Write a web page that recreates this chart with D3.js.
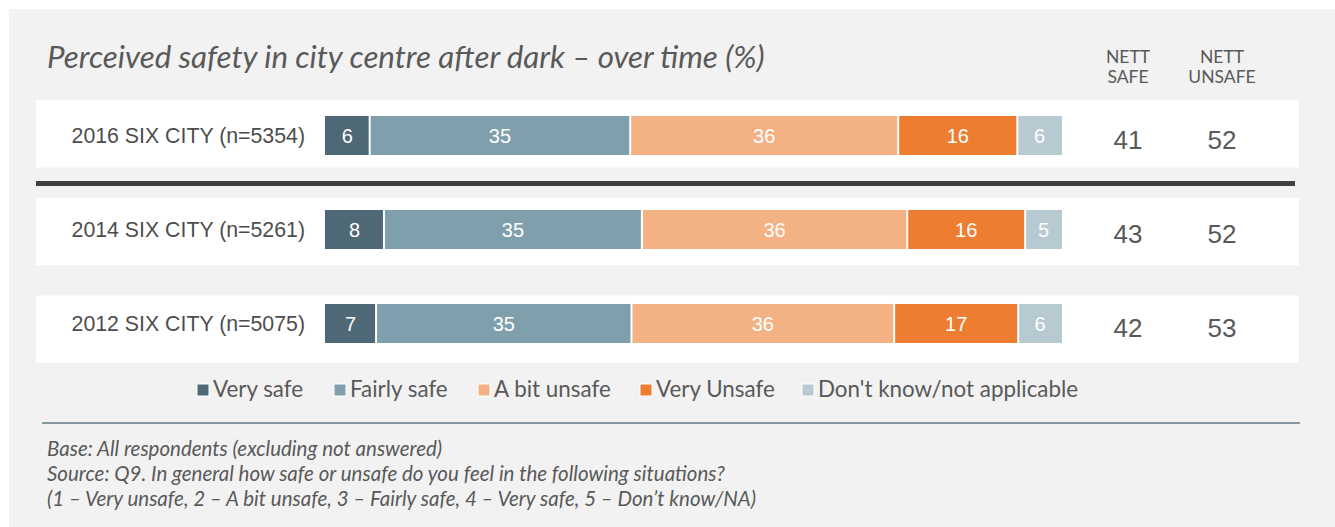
<!DOCTYPE html>
<html>
<head>
<meta charset="utf-8">
<script src="https://cdn.jsdelivr.net/npm/d3@7"></script>
<style>
  body { margin: 0; background: #fff; }
  svg { display: block; }
</style>
</head>
<body>
<script>
// data
const rows = ["2016 SIX CITY (n=5354)", "2014 SIX CITY (n=5261)", "2012 SIX CITY (n=5075)"];
const categories = ["Very safe", "Fairly safe", "A bit unsafe", "Very Unsafe", "Don't know/not applicable"];
const values2016 = [6, 35, 36, 16, 6];
const values2014 = [8, 35, 36, 16, 5];
const values2012 = [7, 35, 36, 17, 6];
const nettSafe = [41, 43, 42];
const nettUnsafe = [52, 52, 53];
const footnotes = [
  "Base: All respondents (excluding not answered)",
  "Source: Q9. In general how safe or unsafe do you feel in the following situations?",
  "(1 \u2013 Very unsafe, 2 \u2013 A bit unsafe, 3 \u2013 Fairly safe, 4 \u2013 Very safe, 5 \u2013 Don\u2019t know/NA)"
];

const colors = ["#4f6876", "#809fac", "#f4b183", "#ed7d31", "#b7c9d1"];
const textGrey = "#595959";

const W = 1335, H = 527;
const svg = d3.select("body").append("svg").attr("width", W).attr("height", H);

// grey panel
svg.append("rect").attr("x", 9).attr("y", 9).attr("width", W - 9).attr("height", H - 9).attr("fill", "#f2f2f2");

// title
svg.append("text")
  .attr("x", 47).attr("y", 68)
  .attr("font-family", "Lato, 'Open Sans', sans-serif")
  .attr("font-style", "italic")
  .attr("font-size", 31.3)
  .attr("fill", textGrey)
  .text("Perceived safety in city centre after dark \u2013 over time (%)");

// column headers
const nettX = [1128, 1222];
[["NETT", "SAFE"], ["NETT", "UNSAFE"]].forEach((lines, i) => {
  lines.forEach((t, j) => {
    svg.append("text")
      .attr("x", nettX[i]).attr("y", 63 + j * 20)
      .attr("text-anchor", "middle")
      .attr("font-family", "Lato, sans-serif")
      .attr("font-size", 17.5)
      .attr("fill", textGrey)
      .text(t);
  });
});

const series = [values2016, values2014, values2012];

// scales
const yRow = d3.scaleBand().domain(rows).range([100, 363]).paddingInner(0.31);
const yBar = d3.scaleBand().domain(rows).range([116, 343]).paddingInner(0.585);

// white row backgrounds
svg.selectAll(".rowbg").data(rows).enter().append("rect")
  .attr("class", "rowbg")
  .attr("x", 36).attr("width", 1299 - 36)
  .attr("y", d => yRow(d)).attr("height", yRow.bandwidth())
  .attr("fill", "#fff");

// dark separator below the first row
svg.append("rect")
  .attr("x", 36).attr("width", 1295 - 36)
  .attr("y", 181).attr("height", 5)
  .attr("fill", "#404040");

// stacked bars (each row normalised to full width)
rows.forEach((r, ri) => {
  const vals = series[ri];
  const total = d3.sum(vals);
  const x = d3.scaleLinear().domain([0, total]).range([325, 1062]);
  const cum = d3.cumsum(vals);
  const segs = vals.map((v, i) => ({ v, i, x0: cum[i] - v, x1: cum[i] }));
  const cy = yBar(r) + yBar.bandwidth() / 2;
  const g = svg.append("g");
  g.selectAll("rect").data(segs).enter().append("rect")
    .attr("x", d => x(d.x0) + (d.i > 0 ? 1 : 0))
    .attr("width", d => x(d.x1) - x(d.x0) - (d.i > 0 ? 1 : 0) - (d.i < vals.length - 1 ? 1 : 0))
    .attr("y", yBar(r)).attr("height", yBar.bandwidth())
    .attr("fill", d => colors[d.i]);
  g.selectAll("text").data(segs).enter().append("text")
    .attr("x", d => (x(d.x0) + x(d.x1)) / 2)
    .attr("y", cy)
    .attr("dy", "0.36em")
    .attr("text-anchor", "middle")
    .attr("font-family", "'Liberation Sans', Arial, sans-serif")
    .attr("font-size", 20)
    .attr("fill", "#fff")
    .text(d => d.v);

  // row label
  svg.append("text")
    .attr("x", 305).attr("y", cy)
    .attr("dy", "0.36em")
    .attr("text-anchor", "end")
    .attr("font-family", "'Liberation Sans', Arial, sans-serif")
    .attr("font-size", 21.3)
    .attr("fill", "#4d4d4d")
    .text(r);

  // nett values
  [nettSafe[ri], nettUnsafe[ri]].forEach((v, k) => {
    svg.append("text")
      .attr("x", nettX[k]).attr("y", cy + 4)
      .attr("dy", "0.36em")
      .attr("text-anchor", "middle")
      .attr("font-family", "'Liberation Sans', Arial, sans-serif")
      .attr("font-size", 26)
      .attr("fill", textGrey)
      .text(v);
  });
});

// legend
const legendX = [197, 334, 478, 640, 802];
const legend = svg.append("g");
categories.forEach((c, i) => {
  legend.append("rect")
    .attr("x", legendX[i]).attr("y", 384)
    .attr("width", 12).attr("height", 12)
    .attr("fill", colors[i])
    .attr("stroke", "#fff").attr("stroke-width", 1);
  legend.append("text")
    .attr("x", legendX[i] + 16).attr("y", 397)
    .attr("font-family", "Lato, sans-serif")
    .attr("font-size", 22.4)
    .attr("fill", textGrey)
    .text(c);
});

// divider line
svg.append("line")
  .attr("x1", 42).attr("x2", 1300)
  .attr("y1", 423).attr("y2", 423)
  .attr("stroke", "#8497a3").attr("stroke-width", 2);

// footnotes
footnotes.forEach((t, i) => {
  svg.append("text")
    .attr("x", 47).attr("y", 456 + i * 25)
    .attr("font-family", "Lato, sans-serif")
    .attr("font-style", "italic")
    .attr("font-size", 20.5)
    .attr("fill", textGrey)
    .text(t);
});
</script>
</body>
</html>
